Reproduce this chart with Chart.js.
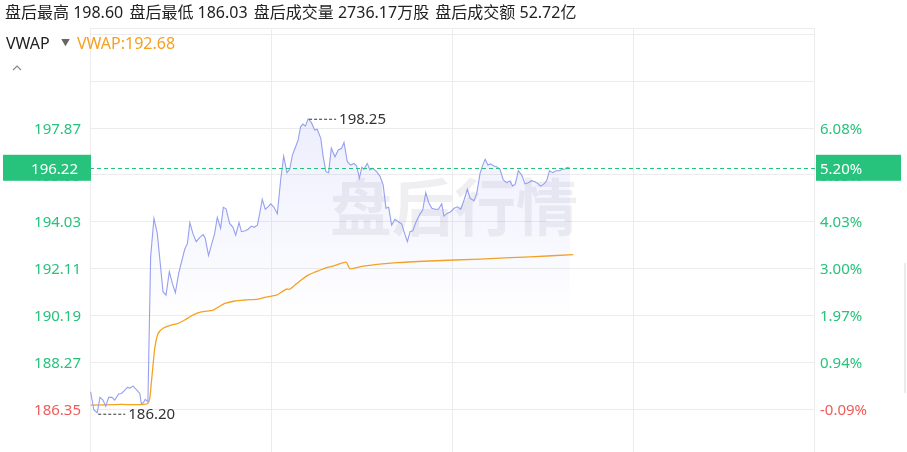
<!DOCTYPE html>
<html>
<head>
<meta charset="utf-8">
<script src="https://cdn.jsdelivr.net/npm/chart.js@4.4.1/dist/chart.umd.min.js"></script>
<style>
  html, body { margin: 0; padding: 0; background: #fff; }
  #wrap { position: relative; width: 907px; height: 452px; overflow: hidden; }
  #c { position: absolute; left: 0; top: 0; }
  .txt { position: absolute; white-space: nowrap; font-family: "Noto Sans", "Noto Sans CJK SC", sans-serif; }
  #summary { left: 5px; top: 1px; font-size: 16px; color: #222; line-height: 22px; }
  #summary span { margin-right: 2px; }
  #vwapName { left: 6px; top: 32px; font-size: 16px; color: #222; line-height: 22px; }
  #vwapArrow { left: 61px; top: 35px; font-size: 9px; color: #666; line-height: 16px; }
  #vwapVal { left: 77px; top: 32px; font-size: 16px; color: #f5a020; line-height: 22px; }
  #chev { position: absolute; left: 11px; top: 64px; }
  #scroll { position: absolute; left: 904px; top: 263px; width: 2px; height: 130px; background: #e9ebef; }
</style>
</head>
<body>
<div id="wrap">
  <canvas id="c" width="907" height="452"></canvas>
  <div id="summary" class="txt"></div>
  <div id="vwapName" class="txt">VWAP</div>
  <div id="vwapArrow" class="txt">▼</div>
  <div id="vwapVal" class="txt"></div>
  <svg id="chev" width="12" height="8"><polyline points="2,6 6,2 10,6" fill="none" stroke="#888" stroke-width="1.2"/></svg>
  <div id="scroll"></div>
</div>
<script>
// after-hours session, minutes from start (x axis 0..240)
const priceMinutes = [0.2, 1.3, 2.4, 3.3, 4.3, 5.2, 6.2, 7.3, 8.2, 9.5, 10.4, 11.3, 12.4, 13.2, 14.3, 15.3, 16.5, 17.0, 17.7, 18.3,
  19.2, 20.1, 21.2, 22.3, 23.4, 24.2, 25.2, 26.3, 27.3, 28.3, 29.4, 30.5, 31.4, 32.3, 33.1, 34.1, 35.2, 36.4, 37.5, 38.2,
  39.3, 40.4, 41.3, 42.2, 43.3, 44.2, 45.1, 46.3, 47.4, 48.3, 49.4, 50.2, 51.5, 52.4, 53.5, 54.4, 55.5, 56.3, 57.1, 58.1,
  59.0, 59.9, 61.0, 62.1, 63.2, 64.2, 65.3, 66.2, 67.1, 68.1, 69.0, 69.8, 70.6, 71.4, 72.3, 73.4, 74.5, 75.3, 76.5, 77.3,
  78.2, 79.1, 80.0, 81.2, 82.3, 83.4, 84.2, 85.3, 86.4, 87.5, 88.4, 89.3, 90.1, 90.8, 91.9, 92.8, 93.7, 95.0, 96.1, 97.2,
  98.1, 99.0, 100.0, 101.1, 102.2, 103.3, 104.1, 105.2, 106.1, 107.0, 108.1, 109.4, 110.3, 111.3, 112.3, 113.3, 114.4, 115.5, 116.6, 117.3,
  118.4, 119.6, 120.7, 121.8, 122.9, 124.0, 125.1, 126.0, 127.3, 128.2, 129.3, 130.2, 131.0, 131.9, 132.8, 133.9, 134.8, 135.9, 137.0, 138.1,
  139.2, 140.1, 141.0, 142.0, 143.1, 144.2, 145.3, 146.4, 147.5, 148.6, 149.4, 150.5, 151.4, 152.3, 153.4, 154.5, 155.6, 156.7, 157.5, 158.2, 159.1];
const prices = [187.06, 186.31, 186.20, 186.83, 186.72, 186.47, 186.83, 186.83, 186.72, 186.97, 186.99, 187.10, 187.24, 187.21, 187.29, 187.16, 186.99, 186.58, 186.61, 186.75,
  186.65, 192.59, 194.17, 193.55, 192.18, 191.16, 191.02, 191.98, 191.50, 191.12, 191.91, 192.46, 192.90, 193.14, 193.99, 193.55, 193.21, 193.39, 193.50, 193.35,
  192.64, 193.14, 193.53, 194.21, 193.76, 194.62, 194.56, 193.96, 193.80, 193.48, 193.99, 193.62, 193.66, 193.72, 193.85, 193.80, 193.89, 194.40, 194.95, 194.54,
  194.64, 194.76, 194.62, 194.35, 195.74, 196.72, 196.04, 196.18, 196.76, 197.08, 197.38, 197.92, 198.03, 197.95, 198.25, 198.09, 197.79, 197.82, 197.45, 196.69,
  196.08, 196.04, 197.04, 196.69, 196.97, 197.04, 197.28, 196.49, 196.35, 196.42, 196.31, 195.81, 196.26, 196.18, 196.42, 196.15, 196.22, 196.08, 195.90, 195.53,
  194.58, 194.62, 193.89, 194.13, 194.03, 193.94, 193.62, 193.21, 193.62, 193.66, 194.03, 194.35, 194.51, 195.22, 194.81, 194.58, 194.54, 194.54, 194.76, 194.26,
  194.37, 194.44, 194.58, 194.64, 194.54, 194.92, 195.36, 194.99, 194.89, 195.19, 196.01, 196.35, 196.59, 196.35, 196.40, 196.31, 196.28, 196.18, 195.74, 195.63,
  195.70, 195.49, 195.58, 196.12, 195.94, 195.58, 195.63, 195.71, 195.67, 195.58, 195.49, 195.58, 195.71, 196.12, 196.04, 196.12, 196.12, 196.18, 196.19, 196.26, 196.22];

const vwapMinutes = [0.2, 10.4, 19.2, 20.3, 21.4, 22.5, 24.2, 26.4, 29.2, 31.4, 34.1, 36.9, 40.8, 42.4, 44.7, 48.0, 51.3, 55.7, 57.9, 61.8,
  63.4, 65.1, 66.2, 67.9, 70.0, 72.3, 74.5, 77.8, 80.6, 84.9, 86.2, 90.6, 101.7, 112.7, 129.3, 145.9, 160.2];
const vwap = [186.51, 186.54, 186.58, 187.40, 188.77, 189.43, 189.66, 189.77, 189.86, 190.00, 190.20, 190.33, 190.41, 190.52, 190.68, 190.78, 190.82, 190.86, 190.93, 191.02,
  191.14, 191.27, 191.26, 191.43, 191.64, 191.84, 191.96, 192.12, 192.21, 192.37, 192.10, 192.21, 192.35, 192.42, 192.50, 192.59, 192.68];

const leftTicks = [186.35, 188.27, 190.19, 192.11, 194.03, 195.95, 197.87, 199.79, 201.71];
const leftLabels = ['186.35', '188.27', '190.19', '192.11', '194.03', '195.95', '197.87', '', ''];
const rightLabels = ['-0.09%', '0.94%', '1.97%', '3.00%', '4.03%', '5.05%', '6.08%', '', ''];

const lastPrice = 196.22;
const lastPct = '5.20%';
const yMin = 184.59, yMax = 201.97;

const summaryItems = ['盘后最高 198.60', '盘后最低 186.03', '盘后成交量 2736.17万股', '盘后成交额 52.72亿'];
const vwapLabel = 'VWAP:192.68';

document.getElementById('summary').innerHTML = summaryItems.map(s => '<span>' + s + '</span>').join(' ');
document.getElementById('vwapVal').textContent = vwapLabel;

const GREEN = '#27c27c';
const RED = '#f05a5a';
const GRID = '#ececec';
const FONT = '"Noto Sans", sans-serif';

const zip = (xs, ys) => xs.map((x, i) => ({x: x, y: ys[i]}));

const decor = {
  id: 'decor',
  beforeDatasetsDraw(chart) {
    const {ctx, chartArea} = chart;
    ctx.save();
    ctx.font = 'bold 62px "Noto Sans CJK SC", sans-serif';
    ctx.fillStyle = 'rgba(20,20,50,0.065)';
    ctx.textAlign = 'center';
    ctx.textBaseline = 'middle';
    ctx.fillText('盘后行情', (chartArea.left + chartArea.right) / 2 + 2, 207);
    ctx.restore();
  },
  afterDatasetsDraw(chart) {
    const {ctx, chartArea, scales} = chart;
    const x = scales.x, y = scales.y;
    ctx.save();
    // max / min markers
    let hi = 0, lo = 0;
    prices.forEach((p, i) => { if (p > prices[hi]) hi = i; if (p < prices[lo]) lo = i; });
    ctx.font = '15px ' + FONT;
    ctx.fillStyle = '#333';
    ctx.textBaseline = 'middle';
    ctx.textAlign = 'left';
    [[hi, 0], [lo, 1]].forEach(([i, k]) => {
      const px = x.getPixelForValue(priceMinutes[i]);
      const py = y.getPixelForValue(prices[i]) + (k ? 1 : 0);
      ctx.strokeStyle = '#333';
      ctx.lineWidth = 1;
      ctx.setLineDash([3, 2]);
      ctx.beginPath();
      ctx.moveTo(px + 1, py + 0.5);
      ctx.lineTo(px + 28, py + 0.5);
      ctx.stroke();
      ctx.setLineDash([]);
      ctx.fillText(prices[i].toFixed(2), px + 31, py + 1);
    });
    // last price line
    const ly = Math.round(y.getPixelForValue(lastPrice)) + 0.5;
    ctx.strokeStyle = GREEN;
    ctx.setLineDash([4, 3]);
    ctx.beginPath();
    ctx.moveTo(chartArea.left, ly);
    ctx.lineTo(chartArea.right + 2, ly);
    ctx.stroke();
    ctx.setLineDash([]);
    ctx.restore();
  },
  afterDraw(chart) {
    const {ctx, chartArea, scales} = chart;
    const ly = scales.y.getPixelForValue(lastPrice);
    ctx.save();
    ctx.fillStyle = GREEN;
    ctx.fillRect(3, ly - 13.5, chartArea.left - 2, 26);
    ctx.fillRect(chartArea.right + 2, ly - 13.5, 85, 26);
    ctx.fillStyle = '#fff';
    ctx.font = '15px ' + FONT;
    ctx.textBaseline = 'middle';
    ctx.textAlign = 'right';
    ctx.fillText(lastPrice.toFixed(2), chartArea.left - 12, ly + 1.5);
    ctx.textAlign = 'left';
    ctx.fillText(lastPct, chartArea.right + 6, ly + 1.5);
    ctx.restore();
  }
};

const setTicks = scale => {
  scale.ticks = leftTicks.map(v => ({value: v}));
  scale.ticks.push({value: scale.max});
};
const fitY = w => s => {
  s.width = w;
  s.paddingTop = 0;
  s.paddingBottom = 0;
};

new Chart(document.getElementById('c'), {
  type: 'line',
  data: {
    datasets: [
      {
        data: zip(priceMinutes, prices),
        borderColor: 'rgb(150,160,240)',
        borderWidth: 1.1,
        pointRadius: 0,
        tension: 0,
        fill: 'start',
        backgroundColor: context => {
          const {ctx, chartArea} = context.chart;
          if (!chartArea) return 'rgba(0,0,0,0)';
          const g = ctx.createLinearGradient(0, 118, 0, 320);
          g.addColorStop(0, 'rgba(140,150,240,0.16)');
          g.addColorStop(0.7, 'rgba(140,150,240,0.05)');
          g.addColorStop(1, 'rgba(140,150,240,0)');
          return g;
        },
        yAxisID: 'y'
      },
      {
        data: zip(vwapMinutes, vwap),
        borderColor: '#f7a21e',
        borderWidth: 1.3,
        pointRadius: 0,
        tension: 0.2,
        fill: false,
        yAxisID: 'y'
      }
    ]
  },
  options: {
    responsive: false,
    animation: false,
    events: [],
    layout: {padding: {top: 28, left: 0, right: 0, bottom: 0}},
    plugins: {legend: {display: false}, tooltip: {enabled: false}},
    scales: {
      x: {
        type: 'linear',
        min: 0,
        max: 240,
        ticks: {display: false, stepSize: 60},
        grid: {color: GRID, drawTicks: false},
        border: {display: false},
        afterFit: s => { s.height = 0; s.paddingLeft = 0; s.paddingRight = 0; }
      },
      y: {
        position: 'left',
        min: yMin,
        max: yMax,
        afterBuildTicks: setTicks,
        afterFit: fitY(90),
        grid: {color: GRID, drawTicks: false},
        border: {display: false},
        ticks: {
          padding: 9,
          labelOffset: 1.5,
          font: {family: FONT, size: 15},
          color: c => c.index === 0 ? RED : GREEN,
          callback: (v, i) => leftLabels[i] || ''
        }
      },
      y2: {
        position: 'right',
        min: yMin,
        max: yMax,
        afterBuildTicks: setTicks,
        afterFit: fitY(93),
        grid: {display: false, drawTicks: false},
        border: {display: false},
        ticks: {
          padding: 6,
          labelOffset: 1.5,
          font: {family: FONT, size: 15},
          color: c => c.index === 0 ? RED : GREEN,
          callback: (v, i) => rightLabels[i] || ''
        }
      }
    }
  },
  plugins: [decor]
});
</script>
</body>
</html>
